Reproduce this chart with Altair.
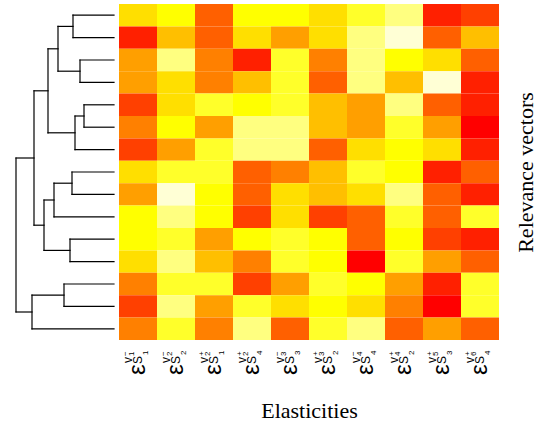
import altair as alt
import pandas as pd

# ---- data ----
cols = ["c1", "c2", "c3", "c4", "c5", "c6", "c7", "c8", "c9", "c10"]
s_index = ["1", "2", "1", "4", "3", "2", "4", "2", "3", "4"]
v_index = ["1", "2", "2", "2", "3", "3", "4", "4", "5", "6"]
v_sign = ["−", "−", "+", "+", "−", "+", "−", "+", "+", "+"]

rows = ["r%d" % i for i in range(1, 16)]
# colour level (0 = red ... 11 = pale yellow, R heat.colors(12))
levels = [
    [7, 8, 3, 8, 8, 7, 9, 10, 1, 2],
    [1, 6, 3, 7, 5, 7, 10, 11, 3, 6],
    [5, 10, 4, 1, 9, 4, 10, 8, 7, 3],
    [5, 7, 4, 6, 9, 3, 10, 6, 11, 1],
    [2, 7, 9, 8, 9, 6, 5, 10, 3, 1],
    [4, 8, 5, 10, 10, 6, 5, 9, 5, 0],
    [2, 5, 9, 10, 10, 3, 7, 8, 7, 1],
    [7, 9, 9, 3, 4, 6, 9, 8, 1, 3],
    [5, 11, 8, 3, 7, 6, 7, 10, 3, 1],
    [8, 10, 8, 2, 7, 2, 3, 9, 3, 9],
    [8, 9, 5, 8, 9, 8, 3, 8, 2, 1],
    [7, 10, 6, 4, 9, 8, 0, 9, 5, 3],
    [4, 9, 9, 2, 5, 9, 8, 5, 1, 9],
    [2, 10, 5, 9, 7, 8, 7, 4, 0, 9],
    [4, 9, 4, 10, 3, 9, 10, 3, 5, 3],
]
heat_colors = ["#FF0000", "#FF2000", "#FF4000", "#FF6000", "#FF8000", "#FF9F00",
               "#FFBF00", "#FFDF00", "#FFFF00", "#FFFF2A", "#FFFF80", "#FFFFD5"]

# hierarchical clustering merges (R style: negative = leaf), with merge height
merge_a = [-1, -3, 1, -5, 4, 3, -8, 7, -11, 8, 6, -13, 12, 11]
merge_b = [-2, -4, 2, -6, -7, 5, -9, -10, -12, 9, 10, -14, -15, 13]
merge_h = [41, 34, 56, 30, 39, 66, 42, 60, 44, 70, 80, 50, 82, 98]

# ---- build tables ----
cells = pd.DataFrame([
    {"row": rows[i], "col": cols[j], "level": levels[i][j]}
    for i in range(len(rows)) for j in range(len(cols))
])
labels = pd.DataFrame({"col": cols, "s": s_index, "v": v_index, "sign": v_sign})

pos, hgt = {}, {}
def node_pos(k):
    if k < 0:
        return float(-k), 0.0
    return pos[k], hgt[k]
segs = []
for n, (a, b, h) in enumerate(zip(merge_a, merge_b, merge_h), start=1):
    pa, ha = node_pos(a)
    pb, hb = node_pos(b)
    segs.append({"x1": h, "x2": h, "y1": pa, "y2": pb})
    segs.append({"x1": ha, "x2": h, "y1": pa, "y2": pa})
    segs.append({"x1": hb, "x2": h, "y1": pb, "y2": pb})
    pos[n] = (pa + pb) / 2
    hgt[n] = h
segs = pd.DataFrame(segs)

H = 336
W = 380
DW = 98

dendro = alt.Chart(segs).mark_rule(color="black", strokeWidth=1.2, strokeCap="square").encode(
    x=alt.X("x1:Q", scale=alt.Scale(domain=[0, max(merge_h)], reverse=True, nice=False, zero=False), axis=None),
    x2="x2:Q",
    y=alt.Y("y1:Q", scale=alt.Scale(domain=[0.5, len(rows) + 0.5], reverse=True, nice=False, zero=False), axis=None),
    y2="y2:Q",
).properties(width=DW, height=H)

xenc = alt.X("col:N", sort=cols, scale=alt.Scale(paddingInner=0, paddingOuter=0),
             axis=alt.Axis(labels=False, ticks=False, domain=False, title="Elasticities",
                           titleFont="Liberation Serif", titleFontSize=22, titleFontWeight="normal",
                           titleColor="black", titlePadding=60))

heat = alt.Chart(cells).mark_rect(strokeWidth=0).encode(
    x=xenc,
    y=alt.Y("row:N", sort=rows, scale=alt.Scale(paddingInner=0, paddingOuter=0),
            axis=alt.Axis(orient="right", labels=False, ticks=False, domain=False,
                          title="Relevance vectors", titleFont="Liberation Serif", titleFontSize=22,
                          titleFontWeight="normal", titleColor="black", titleAngle=270,
                          titleBaseline="alphabetic", titlePadding=33)),
    color=alt.Color("level:O", scale=alt.Scale(domain=list(range(12)), range=heat_colors), legend=None),
)

LY = H + 35
def part(text=None, field=None, size=12, dx=0, dy=0):
    kw = dict(angle=270, align="left", baseline="alphabetic", font="Liberation Sans",
              fontSize=size, dx=dx, dy=dy, color="black")
    if text is not None:
        kw["text"] = text
    enc = dict(x=xenc, y=alt.value(LY))
    if field is not None:
        enc["text"] = alt.Text(field + ":N")
    return alt.Chart(labels).mark_text(**kw).encode(**enc)

lab = [
    part(text="ε", size=24, dx=0, dy=7),
    part(text="S", size=12, dx=11, dy=4),
    part(field="s", size=8, dx=20, dy=10),
    part(text="v", size=12, dx=12, dy=-6),
    part(field="v", size=8, dx=19, dy=-4),
    part(field="sign", size=8, dx=19, dy=-10),
]

right = alt.layer(heat, *lab).properties(width=W, height=H)

chart = alt.hconcat(dendro, right, spacing=4).properties(
    padding={"left": 15, "top": 4, "right": 0, "bottom": 0}
).configure_view(stroke=None)

chart.save("out.html", embed_options={"renderer": "svg", "actions": False})
